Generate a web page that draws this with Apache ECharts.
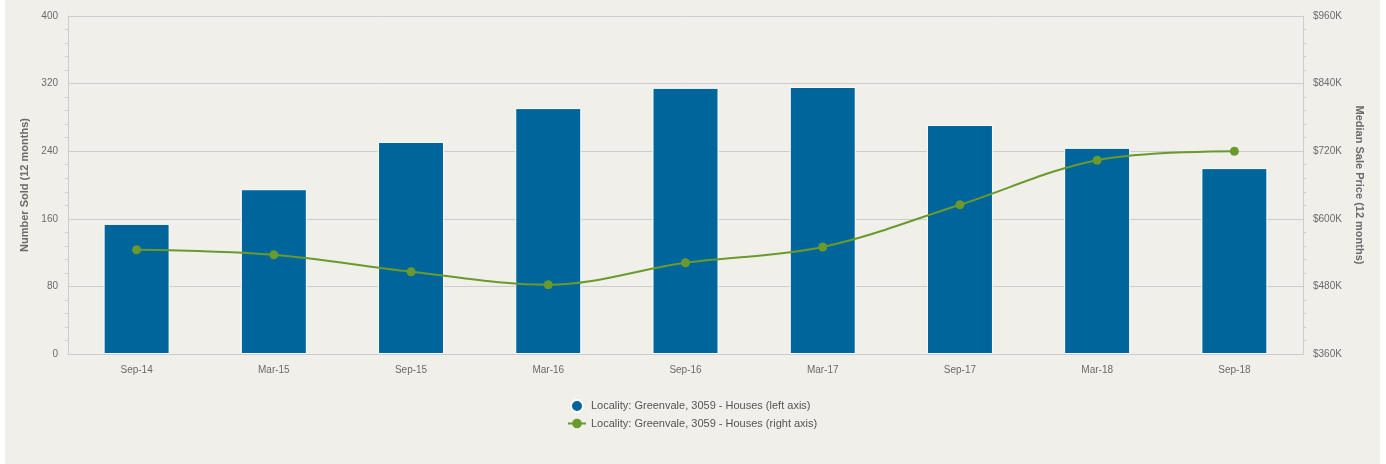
<!DOCTYPE html>
<html>
<head>
<meta charset="utf-8">
<script src="https://cdn.jsdelivr.net/npm/echarts@6/dist/echarts.min.js"></script>
<style>
  html, body { margin: 0; padding: 0; background: #fff; }
  .chart_wrap { position: absolute; left: 5px; top: 0; width: 1375px; height: 464px; background: #f0efea; }
  #chart { position: absolute; left: 0; top: 0; width: 1386px; height: 464px; }
</style>
</head>
<body>
<div class="chart_wrap"></div>
<div id="chart"></div>
<script>
  // periods (x axis)
  var periods = ['Sep-14', 'Mar-15', 'Sep-15', 'Mar-16', 'Sep-16', 'Mar-17', 'Sep-17', 'Mar-18', 'Sep-18'];
  // number sold, left axis
  var numberSold = [154, 195, 251, 291, 315, 316, 271, 244, 220];
  // median price, right axis
  var medianPrice = [545000, 536000, 506000, 483000, 522000, 550000, 625000, 704000, 720000];

  var seriesNames = [
    'Locality: Greenvale, 3059 - Houses (left axis)',
    'Locality: Greenvale, 3059 - Houses (right axis)'
  ];

  var FONT = 'Liberation Sans, Arial, sans-serif';
  var GRAY = '#6a6a6a';
  var LINE = '#cccccc';

  var chart = echarts.init(document.getElementById('chart'));
  chart.setOption({
    backgroundColor: 'transparent',
    textStyle: { fontFamily: FONT },
    animation: false,
    grid: { left: 68, right: 83, top: 16, bottom: 110 },
    legend: {
      orient: 'vertical',
      left: 562, top: 394,
      itemGap: 5,
      itemWidth: 18, itemHeight: 12,
      textStyle: { fontSize: 11, color: '#555', fontFamily: FONT },
      data: [
        { name: seriesNames[0], icon: 'circle' },
        { name: seriesNames[1] }
      ]
    },
    xAxis: {
      type: 'category',
      data: periods,
      axisLine: { lineStyle: { color: LINE } },
      axisTick: { alignWithLabel: true, length: 5, lineStyle: { color: LINE } },
      axisLabel: { color: GRAY, fontSize: 10, margin: 11 }
    },
    yAxis: [{
      type: 'value',
      min: 0, max: 400, interval: 80,
      name: 'Number Sold (12 months)',
      nameLocation: 'middle',
      nameGap: 35,
      nameTextStyle: { color: GRAY, fontSize: 11, fontWeight: 'bold' },
      axisLine: { show: true, lineStyle: { color: LINE } },
      axisTick: { show: false },
      minorTick: { show: true, splitNumber: 5, length: 3, lineStyle: { color: LINE } },
      axisLabel: { color: GRAY, fontSize: 10, margin: 10 },
      splitLine: { lineStyle: { color: LINE } }
    }, {
      type: 'value',
      position: 'right',
      min: 360000, max: 960000, interval: 120000,
      name: 'Median Sale Price (12 months)',
      nameLocation: 'middle',
      nameGap: 51,
      nameRotate: -90,
      nameTextStyle: { color: GRAY, fontSize: 11, fontWeight: 'bold' },
      axisLine: { show: true, lineStyle: { color: LINE } },
      axisTick: { show: false },
      minorTick: { show: true, splitNumber: 5, length: 3, lineStyle: { color: LINE } },
      axisLabel: {
        color: GRAY, fontSize: 10, margin: 10,
        formatter: function (v) { return '$' + (v / 1000) + 'K'; }
      },
      splitLine: { show: false }
    }],
    series: [{
      name: seriesNames[0],
      type: 'bar',
      yAxisIndex: 0,
      data: numberSold,
      barWidth: 66,
      itemStyle: { color: '#00659a', borderColor: '#fff', borderWidth: 1 }
    }, {
      name: seriesNames[1],
      type: 'line',
      yAxisIndex: 1,
      data: medianPrice,
      smooth: 0.35,
      symbol: 'circle',
      symbolSize: 9,
      lineStyle: { color: '#6a9a2c', width: 2 },
      itemStyle: { color: '#6a9a2c' }
    }]
  });
</script>
</body>
</html>
